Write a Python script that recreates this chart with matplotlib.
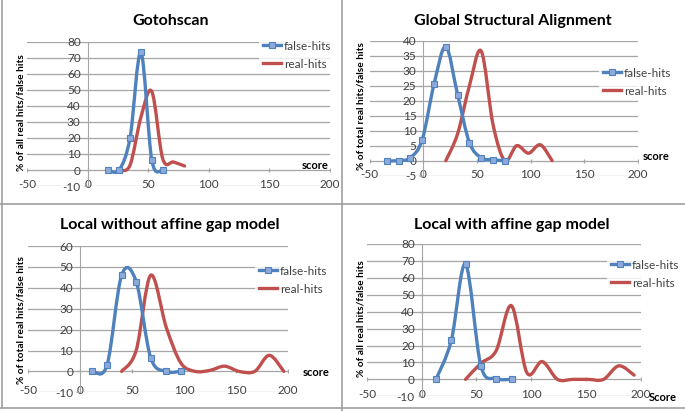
import numpy as np
import matplotlib
matplotlib.use("Agg")
import matplotlib.pyplot as plt
from matplotlib.path import Path
from matplotlib.patches import PathPatch
from matplotlib.lines import Line2D

plt.rcParams["font.family"] = ["Lato", "DejaVu Sans"]

# ---- data ----
goto_false_x = [17, 26, 35, 44, 53, 62]
goto_false_y = [0, 0, 20, 73.5, 6, 0]
goto_real_x = [26, 35, 44, 53, 62, 71, 80]
goto_real_y = [0, 3, 33, 49, 7, 5, 2.5]

gsa_false_x = [-34, -23, -12, -1, 10, 21, 32, 43, 54, 65, 76]
gsa_false_y = [0, 0, 1, 7, 25.5, 38, 22, 6, 1, 0.3, 0]
gsa_real_x = [21, 32, 43, 54, 65, 76, 87, 98, 109, 120]
gsa_real_y = [0, 9, 25, 36.5, 12, 0, 5, 2.5, 5.3, 0]

lwo_false_x = [12, 26, 40, 54, 68, 83, 97]
lwo_false_y = [0, 3, 46, 43, 6.5, 0, 0]
lwo_real_x = [40, 54, 68, 83, 97, 111, 125, 139, 153, 168, 182, 196]
lwo_real_y = [0, 10, 46, 21, 4, 0, 0.5, 2.5, 0, 0, 7.7, 0]

lwa_false_x = [13, 27, 40, 54, 68, 82]
lwa_false_y = [0, 23, 68, 8, 0.5, 0]
lwa_real_x = [40, 54, 68, 82, 96, 110, 124, 138, 152, 166, 180, 194]
lwa_real_y = [0, 9.5, 17, 43.5, 4, 10.5, 0, 0, 0, 0, 8, 2.5]

x_ticks = [-50, 0, 50, 100, 150, 200]
series_names = ["false-hits", "real-hits"]

BLUE = "#4F81BD"
RED = "#C0504D"
GRID = "#A6A6A6"
TXT = "#404040"

W, H = 685, 411
fig = plt.figure(figsize=(6.85, 4.11), dpi=100)


def fx(px):
    return px / W


def fy(py):
    return 1 - py / H


def smooth_path(x, y):
    # excel-style smoothed line: cubic bezier, catmull-rom control points
    pts = np.column_stack([x, y]).astype(float)
    n = len(pts)
    verts = [pts[0]]
    codes = [Path.MOVETO]
    for i in range(n - 1):
        p0 = pts[max(i - 1, 0)]
        p1 = pts[i]
        p2 = pts[i + 1]
        p3 = pts[min(i + 2, n - 1)]
        verts += [p1 + (p2 - p0) / 6, p2 - (p3 - p1) / 6, p2]
        codes += [Path.CURVE4] * 3
    return Path(verts, codes)


def panel(box, yticks, title, title_xy, ylabel, ylabel_xy, fx_, fy_, rx_, ry_,
          score, score_xy, leg_xy):
    left, right, top, bottom = box
    ax = fig.add_axes([fx(left), fy(bottom), fx(right - left), (bottom - top) / H])
    ax.set_xlim(x_ticks[0], x_ticks[-1])
    ax.set_ylim(yticks[0], yticks[-1])
    for s in ["top", "right", "bottom"]:
        ax.spines[s].set_visible(False)
    ax.spines["left"].set_position(("data", 0))
    ax.spines["left"].set_color(GRID)
    ax.set_yticks(yticks)
    ax.set_yticklabels([str(v) for v in yticks])
    ax.set_xticks(x_ticks)
    ax.set_xticklabels([str(v) for v in x_ticks])
    ax.tick_params(axis="y", length=3, color=GRID, labelsize=8.5, labelcolor=TXT, pad=2)
    ax.tick_params(axis="x", length=0, labelsize=8.5, labelcolor=TXT, pad=-5)
    for yt in yticks:
        ax.axhline(yt, color=GRID, lw=0.9, zorder=0)
    # small ticks on the zero line
    ax.plot(x_ticks, [0] * len(x_ticks), ls="none", marker="|", ms=3,
            color=GRID, mew=0.9, zorder=1)

    ax.add_patch(PathPatch(smooth_path(rx_, ry_), fill=False, ec=RED, lw=2.4,
                           zorder=3, capstyle="round"))
    ax.add_patch(PathPatch(smooth_path(fx_, fy_), fill=False, ec=BLUE, lw=2.4,
                           zorder=4, capstyle="round"))
    ax.plot(fx_, fy_, ls="none", marker="s", ms=4, mfc="#8EAADB", mec=BLUE,
            mew=0.8, zorder=5)

    fig.text(fx(title_xy[0]), fy(title_xy[1]), title, ha="center", va="center",
             fontsize=11.5, fontweight="bold", color="black")
    fig.text(fx(ylabel_xy[0]), fy(ylabel_xy[1]), ylabel, ha="center", va="center",
             rotation=90, fontsize=7.3, fontweight="bold", color="black")
    fig.text(fx(score_xy[0]), fy(score_xy[1]), score, ha="center", va="center",
             fontsize=8, fontweight="bold", color="black")

    handles = [
        Line2D([], [], color=BLUE, lw=2.4, marker="s", ms=4, mfc="#8EAADB", mec=BLUE, mew=0.8),
        Line2D([], [], color=RED, lw=2.4),
    ]
    leg = ax.legend(handles, series_names, loc="upper left",
                    bbox_to_anchor=(fx(leg_xy[0]), fy(leg_xy[1])),
                    bbox_transform=fig.transFigure, frameon=True, fontsize=8.5,
                    handlelength=1.6, handletextpad=0.2, labelspacing=0.6,
                    borderpad=0.3, borderaxespad=0, fancybox=False)
    leg.get_frame().set_edgecolor("none")
    leg.get_frame().set_facecolor("white")
    for t in leg.get_texts():
        t.set_color(TXT)
    return ax


panel((27, 330, 42, 186), list(range(-10, 81, 10)), "Gotohscan", (171, 21),
      "% of all real hits/false hits", (21, 113),
      goto_false_x, goto_false_y, goto_real_x, goto_real_y,
      "score", (315, 165), (259, 37))

panel((369.6, 638, 40.7, 175.7), list(range(-5, 41, 5)), "Global Structural Alignment", (513, 21),
      "% of total real hits/false hits", (361, 106),
      gsa_false_x, gsa_false_y, gsa_real_x, gsa_real_y,
      "score", (656, 156), (599, 64))

panel((28, 288, 246, 392.3), list(range(-10, 61, 10)), "Local without affine gap model", (170, 225),
      "% of total real hits/false hits", (21, 320),
      lwo_false_x, lwo_false_y, lwo_real_x, lwo_real_y,
      "score", (316, 372), (255, 262))

panel((367, 640.7, 244, 396.3), list(range(-10, 81, 10)), "Local with affine gap model", (512, 225),
      "% of all real hits/false hits", (361, 319),
      lwa_false_x, lwa_false_y, lwa_real_x, lwa_real_y,
      "Score", (663, 397), (607, 256))

# panel borders
border = dict(color="#A0A0A0", lw=1.2)
fig.add_artist(Line2D([fx(2), fx(2)], [fy(0), fy(408)], **border))
fig.add_artist(Line2D([fx(342), fx(342)], [fy(0), fy(411)], **border))
fig.add_artist(Line2D([fx(0), fx(685)], [fy(204), fy(204)], **border))
fig.add_artist(Line2D([fx(0), fx(685)], [fy(408), fy(408)], **border))

plt.savefig("out.png", dpi=100)
plt.close()
